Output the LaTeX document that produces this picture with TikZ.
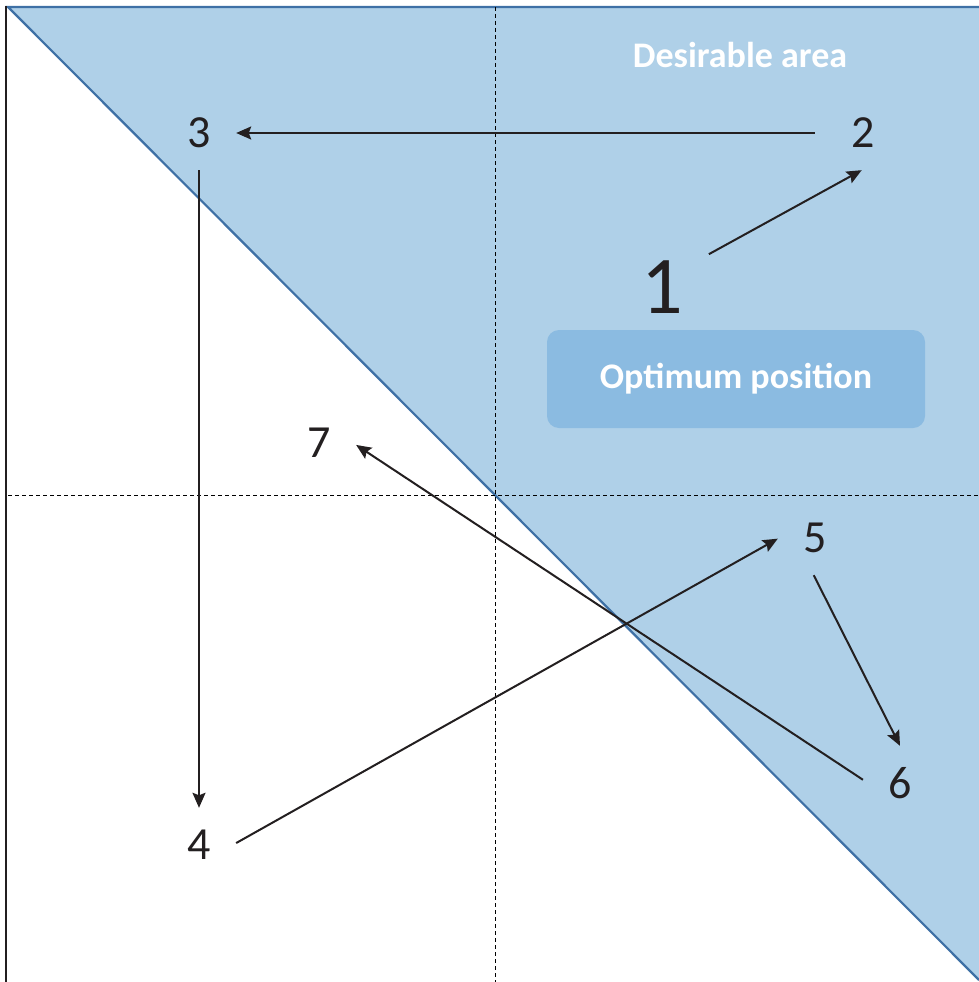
\documentclass[tikz,border=0pt]{standalone}
\usepackage{fontspec}
\setmainfont{Carlito}
\usetikzlibrary{arrows.meta}
\definecolor{zonaazul}{RGB}{175, 208, 232}
\definecolor{cajaazul}{RGB}{139, 187, 225}
\definecolor{bordeazul}{RGB}{62, 112, 165}
\definecolor{tinta}{RGB}{35, 31, 32}

\begin{document}
\begin{tikzpicture}[x=1pt, y=-1pt,
    paso/.style={circle, minimum size=74pt, inner sep=0pt, text=tinta,
        font=\fontsize{46}{46}\selectfont},
    flecha/.style={line width=2pt, draw=tinta,
        -{Stealth[length=15pt, width=13pt, inset=2.5pt]}},
    guia/.style={line width=0.7pt, draw=black, dash pattern=on 4pt off 3pt},
    rotulo/.style={text=white, font=\fontsize{#1}{#1}\selectfont\bfseries}]

    \useasboundingbox (0,0) rectangle (979,982);

    % --- Zona deseable (triángulo superior) ---
    \fill[zonaazul] (8,7) -- (979,7) -- (979,980) -- cycle;
    \draw[bordeazul, line width=2.2pt] (979,980) -- (8,7) -- (979,7);

    % --- Ejes y cuadrantes ---
    \draw[guia] (495,7) -- (495,982);
    \draw[guia] (8,495) -- (979,495);
    \draw[tinta, line width=2.2pt] (6,6) -- (6,982);

    % --- Rótulos ---
    \node[rotulo=36] (deseable) at (740,55) {Desirable area};
    \node[rotulo=36, fill=cajaazul, rounded corners=12pt,
        minimum width=378pt, minimum height=98pt] (optimo) at (736,379) {Optimum position};

    % --- Posiciones (índice, x, y) ---
    \foreach \i/\px/\py in {
        2/863/133,
        3/199/133,
        4/199/845,
        5/815/538,
        6/900/783,
        7/319/443}{
        \node[paso] (n\i) at (\px,\py) {\i};
    }
    \node[paso, minimum size=114pt, font=\fontsize{82}{82}\selectfont] (n1) at (662,287) {1};

    % --- Recorrido (nodo.ángulo de salida / nodo.ángulo de llegada) ---
    \draw[flecha, shorten <=11pt] (n2.west) -- (n3.east);
    \foreach \a/\b in {1.35/2.268, 3.south/4.north, 4.3/5.181, 5.268/6.north, 6.175/7.357}
        \draw[flecha] (n\a) -- (n\b);

\end{tikzpicture}
\end{document}
